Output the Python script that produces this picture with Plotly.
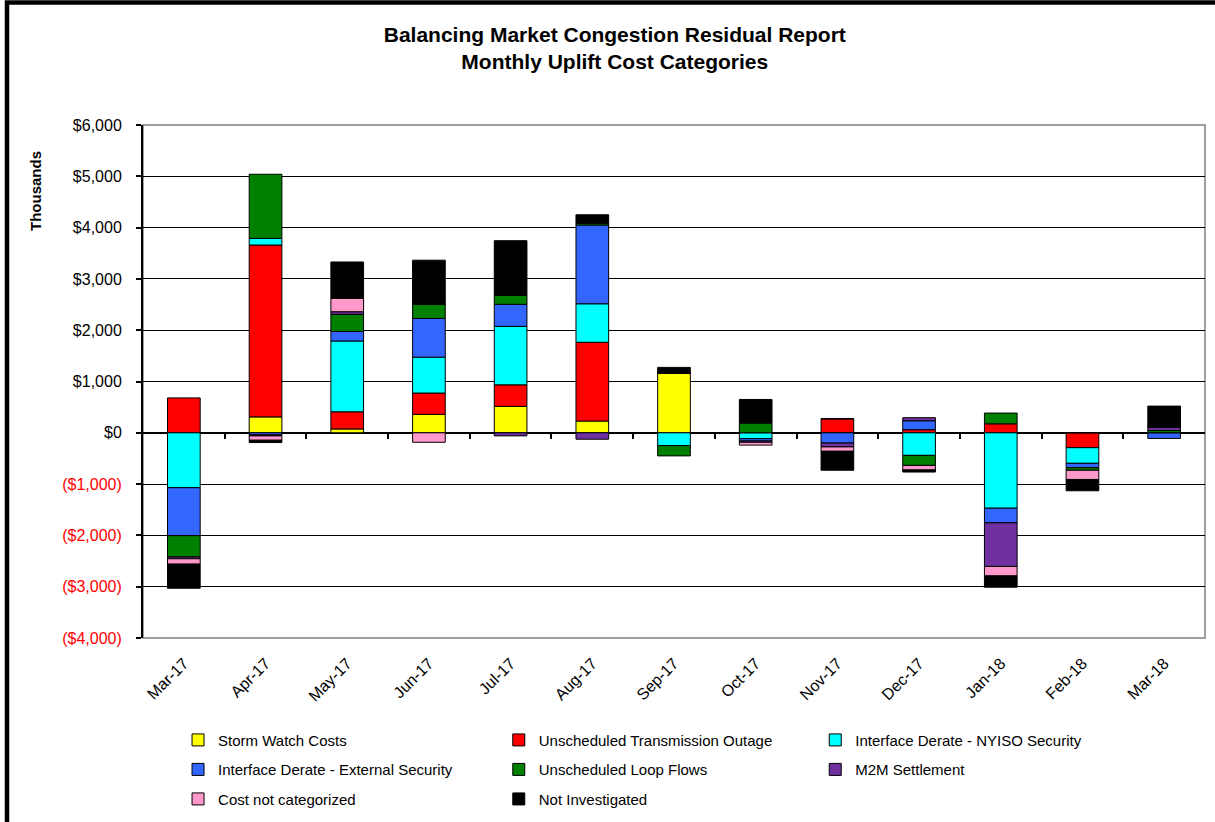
import plotly.graph_objects as go

months = ["Mar-17", "Apr-17", "May-17", "Jun-17", "Jul-17", "Aug-17", "Sep-17",
          "Oct-17", "Nov-17", "Dec-17", "Jan-18", "Feb-18", "Mar-18"]

# values in $ thousands
storm_watch = [0, 310, 75, 360, 515, 230, 1165, 0, 0, 0, 0, 0, 0]
trans_outage = [680, 3350, 335, 415, 420, 1535, 0, 0, 275, 60, 175, -290, 0]
nyiso_security = [-1070, 130, 1380, 700, 1140, 750, -250, -115, 0, -440, -1470, -305, 0]
external_security = [-935, -40, 185, 755, 430, 1535, 0, -45, -200, 175, -285, -85, -110]
loop_flows = [-415, 1250, 335, 280, 180, 40, -200, 190, 0, -195, 210, -50, 45]
m2m_settlement = [-35, -20, 50, 0, -60, -125, 0, -25, -75, 60, -850, 0, 60]
not_categorized = [-105, -85, 260, -185, 0, 0, 0, -55, -85, -90, -185, -180, 0]
not_investigated = [-470, -45, 710, 855, 1060, 160, 110, 460, -370, -40, -220, -220, 415]

series = [
    ("Storm Watch Costs", storm_watch, "#FFFF00"),
    ("Unscheduled Transmission Outage", trans_outage, "#FF0000"),
    ("Interface Derate - NYISO Security", nyiso_security, "#00FFFF"),
    ("Interface Derate - External Security", external_security, "#3366FF"),
    ("Unscheduled Loop Flows", loop_flows, "#008000"),
    ("M2M Settlement", m2m_settlement, "#7030A0"),
    ("Cost not categorized", not_categorized, "#FF99CC"),
    ("Not Investigated", not_investigated, "#000000"),
]

ytick_vals = [6000, 5000, 4000, 3000, 2000, 1000, 0, -1000, -2000, -3000, -4000]
ytick_text = ["$6,000", "$5,000", "$4,000", "$3,000", "$2,000", "$1,000", "$0",
              "<span style='color:#FF0000'>($1,000)</span>",
              "<span style='color:#FF0000'>($2,000)</span>",
              "<span style='color:#FF0000'>($3,000)</span>",
              "<span style='color:#FF0000'>($4,000)</span>"]

FONT = "Liberation Sans, Arial, sans-serif"

fig = go.Figure()
legends = ["legend", "legend2", "legend3"]
for i, (name, vals, color) in enumerate(series):
    fig.add_trace(go.Bar(
        x=months, y=vals, name=name,
        marker=dict(color=color, line=dict(color="#000000", width=1)),
        legend=legends[i % 3], legendgroup=name,
    ))

# empty helper trace so the tick marks on the zero line get drawn
fig.add_trace(go.Scatter(x=months, y=[None] * len(months), xaxis="x2",
                         showlegend=False, hoverinfo="skip"))

leg_common = dict(
    orientation="v", yanchor="top", y=-0.167, xanchor="left",
    font=dict(family=FONT, size=15, color="#000000"),
    bgcolor="rgba(0,0,0,0)", tracegroupgap=7, itemwidth=30,
)

fig.update_layout(
    width=1215, height=822,
    barmode="relative", bargap=0.6,
    paper_bgcolor="white", plot_bgcolor="white",
    font=dict(family=FONT, color="#000000"),
    margin=dict(l=143, r=10, t=125, b=184, autoexpand=False),
    title=dict(
        text="<b>Balancing Market Congestion Residual Report<br>Monthly Uplift Cost Categories</b>",
        x=0.506, xanchor="center", y=0.949, yanchor="top",
        font=dict(family=FONT, size=21, color="#000000"),
    ),
    legend=dict(leg_common, x=0.033),
    legend2=dict(leg_common, x=0.335),
    legend3=dict(leg_common, x=0.633),
    xaxis=dict(
        type="category", tickangle=-45, showgrid=False, showline=False,
        ticks="", ticklabelstandoff=12,
        tickfont=dict(family=FONT, size=16, color="#000000"),
        range=[-0.5, 12.5],
    ),
    xaxis2=dict(
        type="category", overlaying="x", anchor="free", position=0.4, side="bottom",
        range=[-0.5, 12.5], tickmode="array",
        tickvals=[k + 0.5 for k in range(12)], ticks="outside", ticklen=5,
        tickcolor="#000000", tickwidth=1.5, showticklabels=False,
        showgrid=False, showline=False, zeroline=False,
    ),
    yaxis=dict(
        range=[-4000, 6000], tickmode="array", tickvals=ytick_vals, ticktext=ytick_text,
        showgrid=True, gridcolor="#000000", gridwidth=1.2,
        zeroline=True, zerolinecolor="#000000", zerolinewidth=1.5,
        showline=True, linecolor="#000000", linewidth=2,
        ticks="outside", ticklen=5, tickcolor="#000000", tickwidth=1.5,
        ticklabelstandoff=11,
        tickfont=dict(family=FONT, size=16, color="#000000"),
    ),
    showlegend=True,
)

# plot area border (grey) and outer chart frame (thick black)
fig.add_shape(type="rect", xref="paper", yref="paper", x0=0, x1=1, y0=0, y1=1,
              line=dict(color="#808080", width=1.5), layer="below")
fig.add_shape(type="rect", xref="paper", yref="paper",
              x0=(7 - 143) / 1062, x1=(1230 - 143) / 1062,
              y0=(638 - 840) / 513, y1=(638 - 2.5) / 513,
              line=dict(color="#000000", width=4.5))

fig.add_annotation(
    text="<b>Thousands</b>", xref="paper", yref="paper",
    x=(35 - 143) / 1062, y=(638 - 191) / 513, xanchor="center", yanchor="middle",
    textangle=-90, showarrow=False,
    font=dict(family=FONT, size=15, color="#000000"),
)

fig.write_html("out.html", config={"displayModeBar": False},
               post_script="document.body.style.margin='0';")
